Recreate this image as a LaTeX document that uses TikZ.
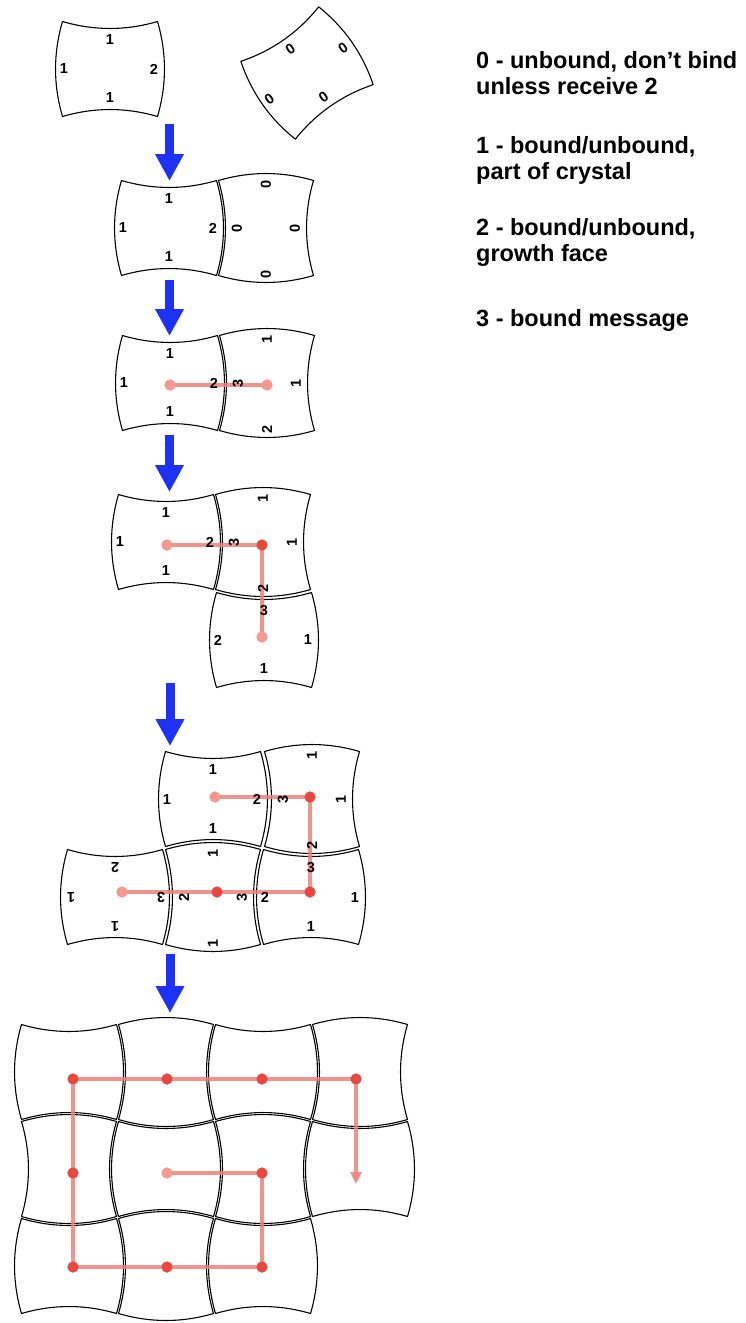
\documentclass[tikz,border=0pt]{standalone}
\usepackage{fontspec}
\setmainfont{Liberation Sans}
\usetikzlibrary{arrows.meta}

\definecolor{arrowblue}{RGB}{30,50,245}
\definecolor{msgline}{RGB}{240,128,120}
\definecolor{dotdark}{RGB}{232,72,62}
\definecolor{dotlight}{RGB}{244,152,144}

\tikzset{
  tileline/.style={draw=black, line width=1.1pt, line join=round},
  lab/.style={font=\bfseries\fontsize{14.5}{14.5}\selectfont, inner sep=0pt},
  legend/.style={font=\bfseries\fontsize{23.5}{26}\selectfont, anchor=base west, inner sep=0pt},
  stagearrow/.style={draw=arrowblue, line width=9pt, -{Triangle[width=27pt,length=27pt]}},
  msg/.style={draw=msgline, line width=3.5pt, opacity=0.85},
  msgtip/.style={msg, -{Triangle[width=11pt,length=12pt]}},
  dotA/.style={circle, fill=dotdark, minimum size=11pt, inner sep=0pt},
  dotB/.style={circle, fill=dotlight, minimum size=11pt, inner sep=0pt},
}

% One tile: concave top/bottom, convex sides; rotated by #3 about its centre (#1,#2)
\newcommand{\tileshape}[3]{%
  \draw[tileline, shift={(#1,#2)}, rotate=#3]
    (-47.5,-47.5) .. controls (-15.8,-38.2) and (15.8,-38.2) .. (47.5,-47.5)
    .. controls (56.8,-15.8) and (56.8,15.8) .. (47.5,47.5)
    .. controls (15.8,38.2) and (-15.8,38.2) .. (-47.5,47.5)
    .. controls (-56.8,15.8) and (-56.8,-15.8) .. (-47.5,-47.5) -- cycle;}

% Face labels of a tile, given in the tile's own frame: top, right, bottom, left
\newcommand{\tilelabels}[8]{%
  \begin{scope}[shift={(#2,#3)}, rotate=#4]
    \node[lab, rotate=#4] (#1t) at (0,-29) {#5};
    \node[lab, rotate=#4] (#1r) at (44,0) {#6};
    \node[lab, rotate=#4] (#1b) at (0,29) {#7};
    \node[lab, rotate=#4] (#1l) at (-46,0) {#8};
  \end{scope}}

\begin{document}
\begin{tikzpicture}[x=1pt, y=-1pt]
\useasboundingbox (0,0) rectangle (746,1323);
\fill[white] (0,0) rectangle (746,1323);

% ---------- tile outlines ----------
% stage 1
\tileshape{110}{69}{0}
\tileshape{307}{73}{35}
% stage 2
\tileshape{169}{228}{0}
\tileshape{266}{228}{90}
% stage 3
\tileshape{170}{383}{0}
\tileshape{267}{383}{90}
% stage 4
\tileshape{166}{542}{0}
\tileshape{263}{542}{90}
\tileshape{264}{640}{0}
% stage 5
\tileshape{213}{799}{0}
\tileshape{312}{799}{90}
\tileshape{115}{897}{180}
\tileshape{213}{897}{90}
\tileshape{311}{897}{0}
% stage 6: grown crystal
\tileshape{69}{1072}{0}
\tileshape{166}{1072}{90}
\tileshape{263}{1072}{0}
\tileshape{360}{1072}{90}
\tileshape{69}{1169}{90}
\tileshape{166}{1169}{0}
\tileshape{263}{1169}{90}
\tileshape{360}{1169}{0}
\tileshape{69}{1266}{0}
\tileshape{166}{1266}{90}
\tileshape{263}{1266}{0}

% ---------- arrows between stages ----------
\coordinate (a1s) at (169.5,124);  \coordinate (a1e) at (169.5,181);
\coordinate (a2s) at (169.5,280);  \coordinate (a2e) at (169.5,336);
\coordinate (a3s) at (169.5,435);  \coordinate (a3e) at (169.5,492);
\coordinate (a4s) at (170,683);    \coordinate (a4e) at (170,746);
\coordinate (a5s) at (170,954);    \coordinate (a5e) at (170,1013);
\foreach \i in {1,...,5} \draw[stagearrow] (a\i s) -- (a\i e);

% ---------- message paths ----------
% stage 3
\node[dotB] (m3a) at (170,385) {};
\node[dotB] (m3b) at (267,385) {};
% stage 4
\node[dotB] (m4a) at (167,545) {};
\node[dotA] (m4b) at (262,545) {};
\node[dotB] (m4c) at (262,637) {};
% stage 5
\node[dotB] (m5a) at (122,892) {};
\node[dotA] (m5b) at (217,892) {};
\node[dotA] (m5c) at (310,892) {};
\node[dotA] (m5d) at (310,797) {};
\node[dotB] (m5e) at (215,797) {};
% stage 6
\node[dotB] (m6a) at (167,1173) {};
\node[dotA] (m6b) at (262,1173) {};
\node[dotA] (m6c) at (262,1267) {};
\node[dotA] (m6d) at (167,1267) {};
\node[dotA] (m6e) at (73,1267) {};
\node[dotA] (m6f) at (73,1173) {};
\node[dotA] (m6g) at (73,1079) {};
\node[dotA] (m6h) at (167,1079) {};
\node[dotA] (m6i) at (262,1079) {};
\node[dotA] (m6j) at (356,1079) {};
\coordinate (m6end) at (356,1184);

\draw[msg] (m3a.center) -- (m3b.center);
\draw[msg] (m4a.center) -- (m4b.center) -- (m4c.center);
\draw[msg] (m5a.center) -- (m5b.center) -- (m5c.center) -- (m5d.center) -- (m5e.center);
\draw[msg] (m6a.center) -- (m6b.center) -- (m6c.center) -- (m6d.center) -- (m6e.center)
  -- (m6f.center) -- (m6g.center) -- (m6h.center) -- (m6i.center) -- (m6j.center);
\draw[msgtip] (m6j.center) -- (m6end);

% dots on top of the lines
\foreach \d in {m3a,m3b,m4a,m4c,m5a,m5e,m6a}
  \fill[dotlight] (\d) circle (5.5);
\foreach \d in {m4b,m5b,m5c,m5d,m6b,m6c,m6d,m6e,m6f,m6g,m6h,m6i,m6j}
  \fill[dotdark] (\d) circle (5.5);

% ---------- face labels ----------
\tilelabels{s1a}{110}{69}{0}{1}{2}{1}{1}
\tilelabels{s1b}{307}{73}{35}{0}{0}{0}{0}
\tilelabels{s2a}{169}{228}{0}{1}{2}{1}{1}
\tilelabels{s2b}{266}{228}{90}{0}{0}{0}{0}
\tilelabels{s3a}{170}{383}{0}{1}{2}{1}{1}
\tilelabels{s3b}{267}{383}{90}{3}{1}{1}{2}
\tilelabels{s4a}{166}{542}{0}{1}{2}{1}{1}
\tilelabels{s4b}{263}{542}{90}{3}{1}{1}{2}
\tilelabels{s4c}{264}{640}{0}{3}{1}{1}{2}
\tilelabels{s5a}{213}{799}{0}{1}{2}{1}{1}
\tilelabels{s5b}{312}{799}{90}{3}{1}{1}{2}
\tilelabels{s5c}{115}{897}{180}{1}{1}{2}{3}
\tilelabels{s5d}{213}{897}{90}{2}{1}{3}{1}
\tilelabels{s5e}{311}{897}{0}{3}{1}{1}{2}

% ---------- key ----------
\node[legend] (k0a) at (476,68)  {0 - unbound, don’t bind};
\node[legend] (k0b) at (476,94)  {unless receive 2};
\node[legend] (k1a) at (476,153) {1 - bound/unbound,};
\node[legend] (k1b) at (476,179) {part of crystal};
\node[legend] (k2a) at (476,235) {2 - bound/unbound,};
\node[legend] (k2b) at (476,261) {growth face};
\node[legend] (k3)  at (476,326) {3 - bound message};
\end{tikzpicture}
\end{document}
